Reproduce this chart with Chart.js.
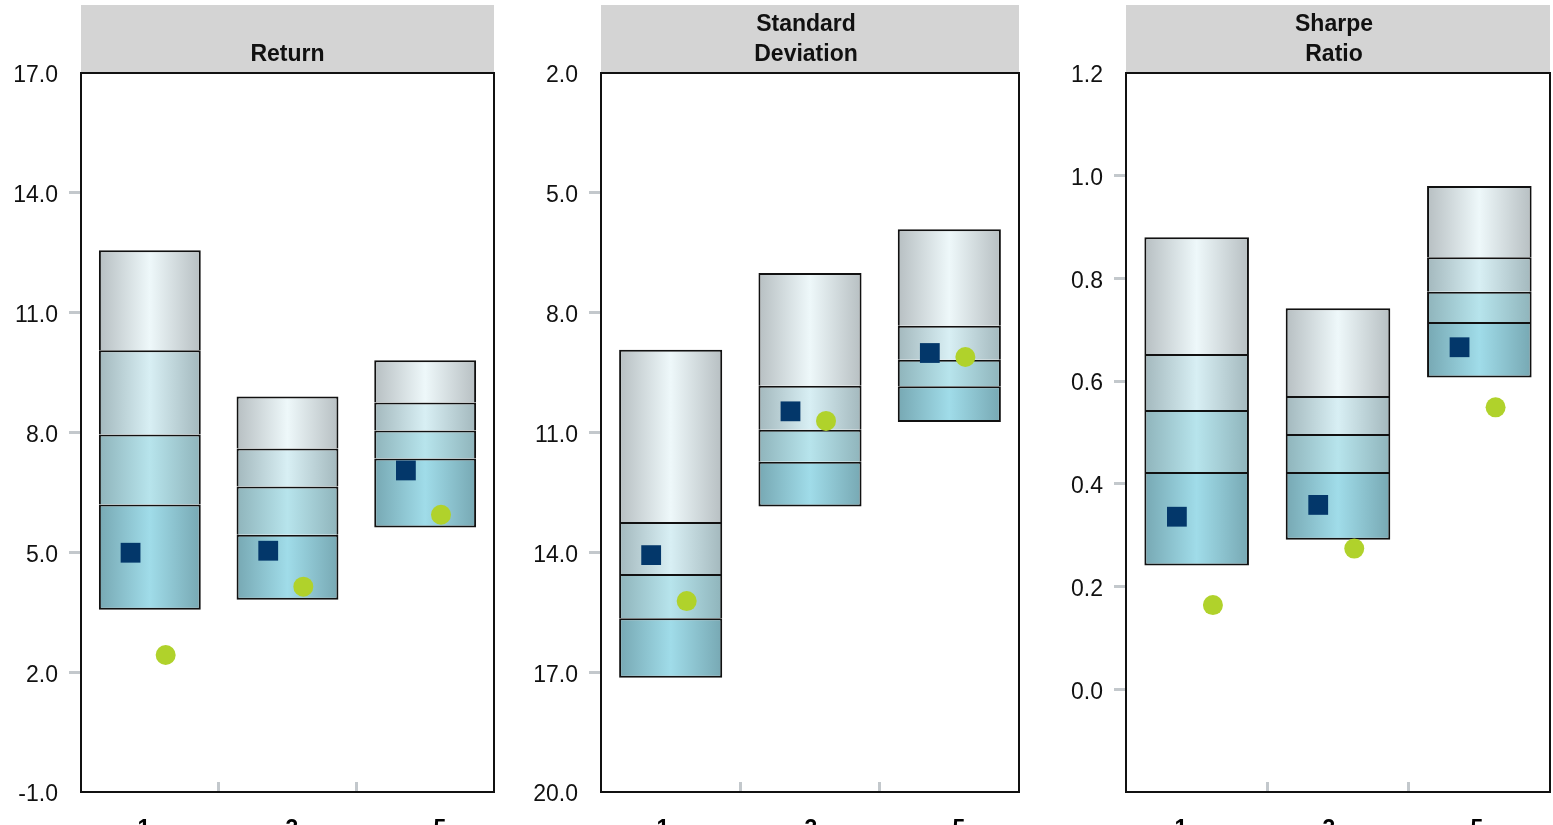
<!DOCTYPE html>
<html lang="en">
<head>
<meta charset="UTF-8">
<title>Peer Ranking - Return, Standard Deviation, Sharpe Ratio</title>
<script src="https://cdn.jsdelivr.net/npm/chart.js@4.4.1/dist/chart.umd.min.js"></script>
<style>
  body { margin: 0; background: #fff; }
  canvas.panel { position: absolute; top: 0; }
</style>
</head>
<body>
<canvas id="returnChart" class="panel" width="510" height="825" style="left:0px"></canvas>
<canvas id="stdChart" class="panel" width="515" height="825" style="left:520px"></canvas>
<canvas id="sharpeChart" class="panel" width="508" height="825" style="left:1045px"></canvas>

<script>
// Periods (years)
const periods = ['1', '3', '5'];

// Return: percentile band edges, top of box to bottom
const returnP05 = [12.56, 8.90, 9.81];
const returnP25 = [10.06, 7.60, 8.75];
const returnP50 = [7.95, 6.65, 8.05];
const returnP75 = [6.20, 5.44, 7.35];
const returnP95 = [3.56, 3.81, 5.62];
const returnFund = [4.99, 5.04, 7.05];
const returnBench = [2.43, 4.14, 5.94];

// Standard deviation (axis is reversed)
const stdP05 = [8.93, 7.01, 5.91];
const stdP25 = [13.24, 9.83, 8.33];
const stdP50 = [14.54, 10.93, 9.18];
const stdP75 = [15.65, 11.73, 9.84];
const stdP95 = [17.14, 12.85, 10.74];
const stdFund = [14.07, 10.47, 9.01];
const stdBench = [15.22, 10.71, 9.11];

// Sharpe ratio
const sharpeP05 = [0.880, 0.742, 0.980];
const sharpeP25 = [0.653, 0.571, 0.841];
const sharpeP50 = [0.544, 0.497, 0.774];
const sharpeP75 = [0.423, 0.423, 0.715];
const sharpeP95 = [0.241, 0.291, 0.607];
const sharpeFund = [0.336, 0.359, 0.666];
const sharpeBench = [0.164, 0.274, 0.549];

// look
const BAR_PCT = 0.74;
const FUND_SHIFT = -0.14;
const BENCH_SHIFT = 0.115;
const bandStops = [
    ['#b7bfc2', '#eef8fa'],
    ['#a3b8bd', '#d8eff4'],
    ['#8fb4bb', '#b7e4ec'],
    ['#77a8b3', '#a0dce9']
];
// each band draws the line on its top edge, so separators are a single 2px line
const bandBorders = [
    { top: 2, bottom: 0, left: 2, right: 2 },
    { top: 2, bottom: 0, left: 2, right: 2 },
    { top: 2, bottom: 0, left: 2, right: 2 },
    { top: 2, bottom: 2, left: 2, right: 2 }
];
const tickGray = '#c3c8cc';
const FONT = '"Liberation Sans", Arial, sans-serif';

// horizontal metallic gradient across each bar
function bandFill(stops) {
    return function (ctx) {
        const chart = ctx.chart;
        const x = chart.scales.x;
        if (!x || ctx.dataIndex === undefined || !x.width) return stops[0];
        const c = x.getPixelForValue(ctx.dataIndex);
        const half = (x.width / periods.length) * BAR_PCT / 2;
        const g = chart.ctx.createLinearGradient(c - half, 0, c + half, 0);
        g.addColorStop(0, stops[0]);
        g.addColorStop(0.5, stops[1]);
        g.addColorStop(1, stops[0]);
        return g;
    };
}

// grey header band above the plot + black frame round it
function framePlugin(titleLines, titleShift) {
    return {
        id: 'frame',
        beforeDraw(chart) {
            const { ctx, chartArea: a } = chart;
            ctx.save();
            ctx.fillStyle = '#d4d4d4';
            ctx.fillRect(a.left, 5, a.right - a.left, a.top - 5);
            ctx.fillStyle = '#111';
            ctx.font = 'bold 23px ' + FONT;
            ctx.textAlign = 'center';
            ctx.textBaseline = 'middle';
            const cx = (a.left + a.right) / 2 + titleShift;
            titleLines.forEach((t, i) => {
                ctx.fillText(t, cx, 55 - (titleLines.length - 1 - i) * 30);
            });
            ctx.restore();
        },
        afterDraw(chart) {
            const { ctx, chartArea: a } = chart;
            ctx.save();
            ctx.strokeStyle = '#111';
            ctx.lineWidth = 2;
            ctx.strokeRect(a.left, a.top, a.right - a.left, a.bottom - a.top);
            ctx.restore();
        }
    };
}

function makePanel(id, titleLines, titleShift, edges, fund, bench, yCfg, padRight, labelRange) {
    const bands = [0, 1, 2, 3].map(k => ({
        type: 'bar',
        xAxisID: 'x',
        yAxisID: 'y',
        data: periods.map((_, i) => [edges[k][i], edges[k + 1][i]]),
        backgroundColor: bandFill(bandStops[k]),
        borderColor: '#111',
        borderWidth: bandBorders[k],
        borderSkipped: false,
        barPercentage: BAR_PCT,
        categoryPercentage: 1,
        grouped: false,
        order: 2
    }));

    const markers = [
        {
            type: 'scatter',
            xAxisID: 'x2',
            yAxisID: 'y',
            data: fund.map((v, i) => ({ x: i + FUND_SHIFT, y: v })),
            pointStyle: 'rect',
            pointRadius: 14,
            backgroundColor: '#03376a',
            borderWidth: 0,
            order: 0
        },
        {
            type: 'scatter',
            xAxisID: 'x2',
            yAxisID: 'y',
            data: bench.map((v, i) => ({ x: i + BENCH_SHIFT, y: v })),
            pointStyle: 'circle',
            pointRadius: 10,
            backgroundColor: '#b0d22b',
            borderWidth: 0,
            order: 0
        }
    ];

    new Chart(document.getElementById(id), {
        type: 'bar',
        data: { labels: periods, datasets: markers.concat(bands) },
        plugins: [framePlugin(titleLines, titleShift)],
        options: {
            responsive: false,
            animation: false,
            events: [],
            layout: { autoPadding: false, padding: { top: 73, right: padRight, left: 0, bottom: 0 } },
            plugins: { legend: { display: false }, tooltip: { enabled: false } },
            scales: {
                // category axis: only the small inward tick marks between periods
                x: {
                    type: 'category',
                    position: 'bottom',
                    weight: 0,
                    offset: true,
                    border: { display: false },
                    grid: {
                        offset: true,
                        drawOnChartArea: false,
                        tickLength: -10,
                        lineWidth: 3,
                        color: c => (c.index === 1 || c.index === 2) ? tickGray : 'rgba(0,0,0,0)'
                    },
                    ticks: { display: false },
                    afterFit: s => { s.height = 0; }
                },
                // period labels
                xl: {
                    type: 'linear',
                    position: 'bottom',
                    weight: 1,
                    offset: false,
                    min: labelRange[0],
                    max: labelRange[1],
                    border: { display: false },
                    grid: { display: false, drawTicks: false },
                    afterBuildTicks: s => { s.ticks = periods.map(p => ({ value: Number(p) })); },
                    ticks: {
                        padding: 24,
                        color: '#000',
                        font: { family: FONT, size: 23, weight: 'bold' },
                        callback: v => String(v)
                    },
                    afterFit: s => { s.height = 33; }
                },
                // markers sit beside the box centre
                x2: { type: 'linear', min: -0.5, max: 2.5, offset: false, display: false },
                y: {
                    min: yCfg.min,
                    max: yCfg.max,
                    reverse: !!yCfg.reverse,
                    border: { display: false },
                    grid: {
                        drawOnChartArea: false,
                        tickLength: 12,
                        lineWidth: 3,
                        color: c => (c.index === 0 || c.index === c.scale.ticks.length - 1) ? 'rgba(0,0,0,0)' : tickGray
                    },
                    ticks: {
                        stepSize: yCfg.step,
                        padding: 11,
                        labelOffset: 3,
                        color: '#111',
                        font: { family: FONT, size: 23 },
                        callback: v => {
                            if (yCfg.hideBelow !== undefined && v < yCfg.hideBelow) return '';
                            return (Math.abs(v) < 1e-9 ? 0 : Number(v)).toFixed(1);
                        }
                    },
                    afterFit: s => { s.width = 81; }
                }
            }
        }
    });
}

makePanel('returnChart', ['Return'], 0,
    [returnP05, returnP25, returnP50, returnP75, returnP95], returnFund, returnBench,
    { min: -1, max: 17, step: 3 }, 16, [0.149, 5.730]);

makePanel('stdChart', ['Standard', 'Deviation'], -4,
    [stdP05, stdP25, stdP50, stdP75, stdP95], stdFund, stdBench,
    { min: 2, max: 20, step: 3, reverse: true }, 16, [0.162, 5.811]);

makePanel('sharpeChart', ['Sharpe', 'Ratio'], -4,
    [sharpeP05, sharpeP25, sharpeP50, sharpeP75, sharpeP95], sharpeFund, sharpeBench,
    { min: -0.2, max: 1.2, step: 0.2, hideBelow: -0.1 }, 3, [0.257, 5.987]);
</script>
</body>
</html>
